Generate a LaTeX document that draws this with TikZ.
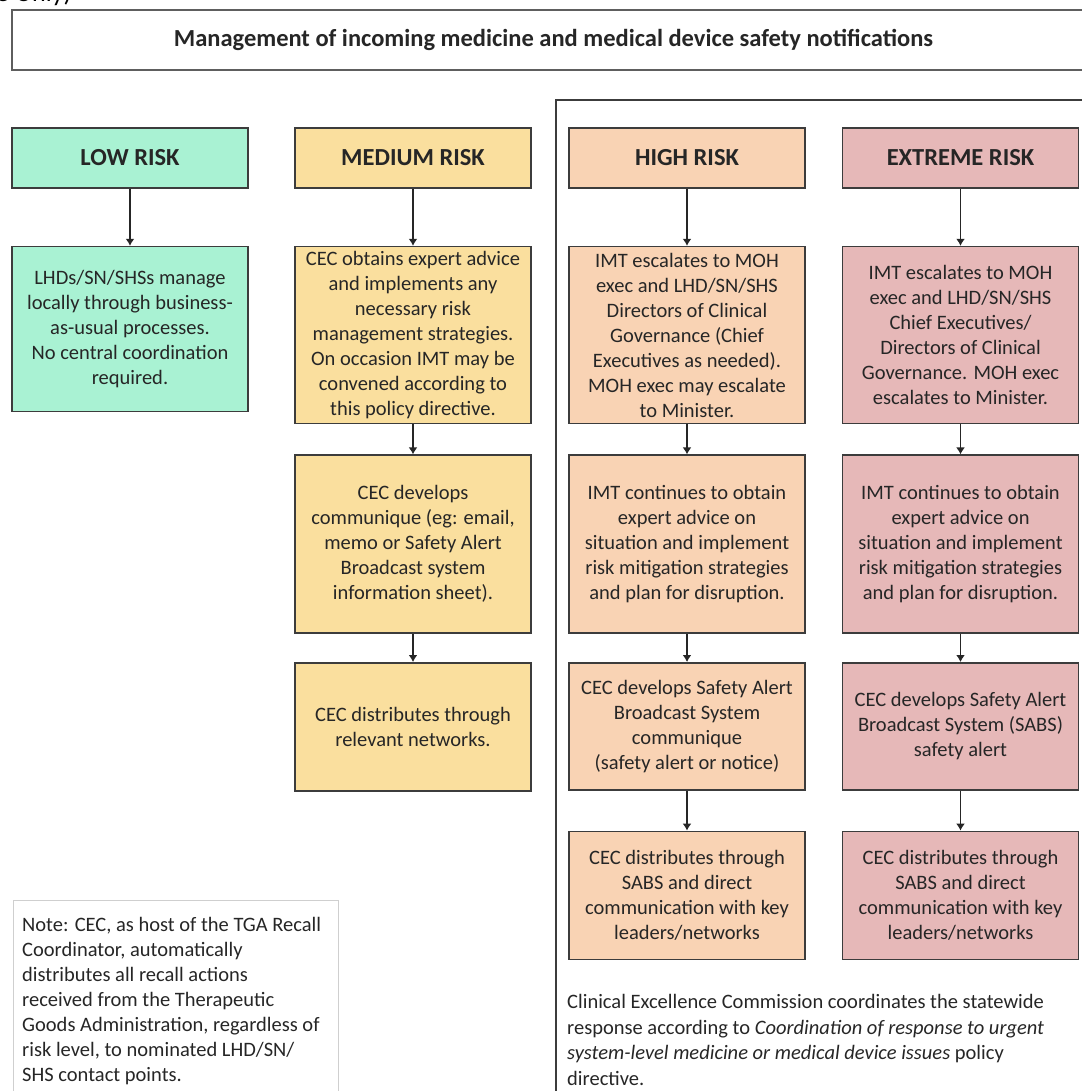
\documentclass[tikz,border=0pt]{standalone}
\usepackage{fontspec}
\setmainfont{Carlito}
\usepackage{tikz}
\usetikzlibrary{positioning,arrows.meta}
\definecolor{boxline}{HTML}{3C3C3C}
\definecolor{titlegray}{HTML}{5E5E5E}
\definecolor{notegray}{HTML}{CFCFCF}
\definecolor{lowgreen}{HTML}{A9F2D3}
\definecolor{medyellow}{HTML}{FADF9E}
\definecolor{highpeach}{HTML}{F9D3B4}
\definecolor{extremerose}{HTML}{E6B8B8}
\definecolor{inkgray}{HTML}{262626}

\tikzset{
  riskhead/.style={draw=boxline, line width=1.6pt, minimum width=236pt, minimum height=60pt,
    inner sep=0pt, text=inkgray, font=\fontsize{24.5}{28}\selectfont\bfseries},
  stepbox/.style={draw=boxline, line width=1.6pt, minimum width=236pt, inner sep=0pt,
    align=center, text=inkgray, font=\fontsize{20.5}{25}\selectfont},
  flow/.style={-{Latex[length=7pt,width=9pt]}, line width=1.4pt, draw=inkgray},
  notetext/.style={inner sep=0pt, align=left, text=inkgray, font=\fontsize{20.5}{25}\selectfont}
}

\begin{document}
\begin{tikzpicture}[x=1pt,y=-1pt, node distance=30pt]
  \useasboundingbox (0,0) rectangle (1081,1091);
  \node[anchor=base west, inner sep=0pt, font=\fontsize{26}{30}\selectfont] (cutoff) at (-4,2) {e Only)};

  % title and bracket
  \node[draw=titlegray, line width=2pt, minimum width=1083pt, minimum height=60pt, inner sep=0pt,
    text=inkgray, font=\fontsize{24.5}{28}\selectfont\bfseries] (title) at (553.5,40)
    {Management of incoming medicine and medical device safety notifications};
  \draw[line width=1.4pt, boxline] (556,1100) -- (556,100) -- (1095,100);

  % low
  \node[riskhead, fill=lowgreen] (lowhead) at (130,158) {LOW RISK};
  \node[stepbox, fill=lowgreen, minimum height=165pt, below=57pt of lowhead] (low1)
    {LHDs/SN/SHSs manage\\ locally through business-\\ as-usual processes.\\ No central coordination\\ required.};

  % medium
  \node[riskhead, fill=medyellow] (medhead) at (413,158) {MEDIUM RISK};
  \node[stepbox, fill=medyellow, minimum height=177pt, below=57pt of medhead] (med1)
    {CEC obtains expert advice\\ and implements any\\ necessary risk\\ management strategies.\\ On occasion IMT may be\\ convened according to\\ this policy directive.};
  \node[stepbox, fill=medyellow, minimum height=178pt, below=of med1] (med2)
    {CEC develops\\ communique (eg: email,\\ memo or Safety Alert\\ Broadcast system\\ information sheet).};
  \node[stepbox, fill=medyellow, minimum height=128pt, below=28pt of med2] (med3)
    {CEC distributes through\\ relevant networks.};

  % high
  \node[riskhead, fill=highpeach] (highhead) at (687,158) {HIGH RISK};
  \node[stepbox, fill=highpeach, minimum height=177pt, below=57pt of highhead] (high1)
    {IMT escalates to MOH\\ exec and LHD/SN/SHS\\ Directors of Clinical\\ Governance (Chief\\ Executives as needed).\\ MOH exec may escalate\\ to Minister.};
  \node[stepbox, fill=highpeach, minimum height=178pt, below=of high1] (high2)
    {IMT continues to obtain\\ expert advice on\\ situation and implement\\ risk mitigation strategies\\ and plan for disruption.};
  \node[stepbox, fill=highpeach, minimum height=127pt, below=28pt of high2] (high3)
    {CEC develops Safety Alert\\ Broadcast System\\ communique\\ (safety alert or notice)};
  \node[stepbox, fill=highpeach, minimum height=128pt, below=40pt of high3] (high4)
    {CEC distributes through\\ SABS and direct\\ communication with key\\ leaders/networks};

  % extreme
  \node[riskhead, fill=extremerose] (exthead) at (960.5,158) {EXTREME RISK};
  \node[stepbox, fill=extremerose, minimum height=177pt, below=57pt of exthead] (ext1)
    {IMT escalates to MOH\\ exec and LHD/SN/SHS\\ Chief Executives/\\ Directors of Clinical\\ Governance. MOH exec\\ escalates to Minister.};
  \node[stepbox, fill=extremerose, minimum height=178pt, below=of ext1] (ext2)
    {IMT continues to obtain\\ expert advice on\\ situation and implement\\ risk mitigation strategies\\ and plan for disruption.};
  \node[stepbox, fill=extremerose, minimum height=127pt, below=28pt of ext2] (ext3)
    {CEC develops Safety Alert\\ Broadcast System (SABS)\\ safety alert};
  \node[stepbox, fill=extremerose, minimum height=128pt, below=40pt of ext3] (ext4)
    {CEC distributes through\\ SABS and direct\\ communication with key\\ leaders/networks};

  \foreach \a/\b in {lowhead/low1, medhead/med1, med1/med2, med2/med3,
    highhead/high1, high1/high2, high2/high3, high3/high4,
    exthead/ext1, ext1/ext2, ext2/ext3, ext3/ext4}
    \draw[flow] (\a) -- (\b);

  % notes
  \draw[notegray, line width=1pt] (13,1100) -- (13,900) -- (338,900) -- (338,1100);
  \node[notetext, anchor=north west] (recallnote) at (22,917)
    {Note: CEC, as host of the TGA Recall\\ Coordinator, automatically\\ distributes all recall actions\\ received from the Therapeutic\\ Goods Administration, regardless of\\ risk level, to nominated LHD/SN/\\ SHS contact points.};
  \node[notetext, anchor=north west, font=\fontsize{20.5}{25.6}\selectfont] (cecnote) at (567,994)
    {Clinical Excellence Commission coordinates the statewide\\ response according to \textit{Coordination of response to urgent}\\ \textit{system-level medicine or medical device issues} policy\\ directive.};
\end{tikzpicture}
\end{document}
